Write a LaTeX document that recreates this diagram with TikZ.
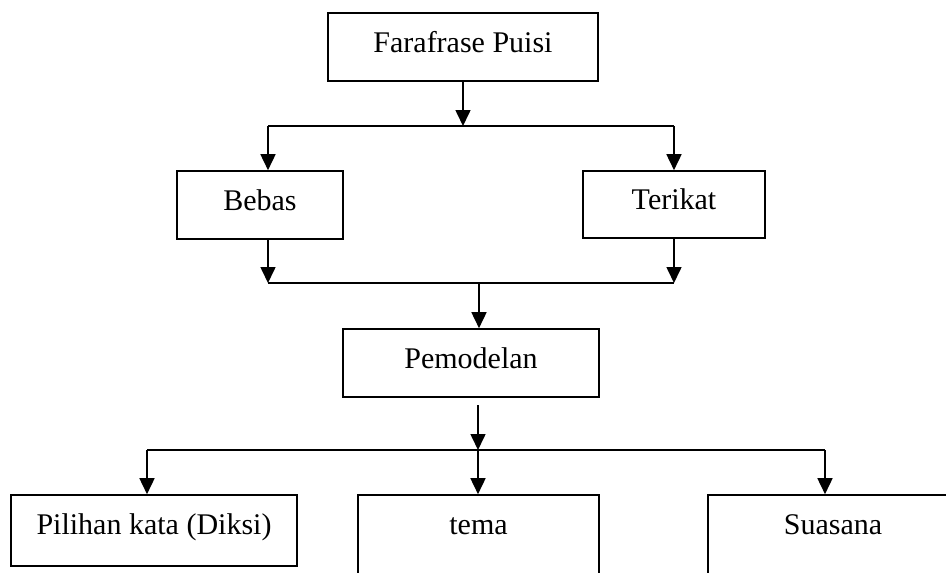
\documentclass[tikz,border=0pt]{standalone}
\usepackage{fontspec}
\setmainfont{Liberation Serif}
\usetikzlibrary{arrows.meta,calc}
\begin{document}
\begin{tikzpicture}[x=1pt,y=-1pt,
  box/.style={draw, line width=1.6pt, font=\fontsize{30}{36}\selectfont, inner sep=0pt, text height=21pt, text depth=11pt},
  link/.style={line width=1.6pt},
  arr/.style={line width=1.6pt, -{Triangle[width=15pt,length=16pt]}}]
\useasboundingbox (0,0) rectangle (946,573);
\clip (0,0) rectangle (946,573);
% boxes
\node[box, minimum width=270pt, minimum height=68pt] (top) at (463,47) {Farafrase Puisi};
\node[box, minimum width=166pt, minimum height=68pt] (bebas) at (260,205) {Bebas};
\node[box, minimum width=182pt, minimum height=67pt] (terikat) at (674,204.5) {Terikat};
\node[box, minimum width=256pt, minimum height=68pt] (pemodelan) at (471,363) {Pemodelan};
\node[box, minimum width=286pt, minimum height=71pt, text depth=14pt] (diksi) at (154,530.5) {Pilihan kata (Diksi)};
\node[box, minimum width=241pt, minimum height=110pt, text depth=53pt] (tema) at (478.5,550) {tema};
\node[box, minimum width=250pt, minimum height=110pt, text depth=53pt] (suasana) at (833,550) {Suasana};
% junction coordinates
\coordinate (j1) at (463,126);
\coordinate (j1l) at (268,126);
\coordinate (j1r) at (674,126);
\coordinate (j2l) at (268,283);
\coordinate (j2r) at (674,283);
\coordinate (j2m) at (479,283);
\coordinate (p3) at (478,405);
\coordinate (j3) at (478,450);
\coordinate (j3l) at (147,450);
\coordinate (j3r) at (825,450);
% connectors
\draw[arr] (top.south) -- (j1);
\draw[link] (j1l) -- (j1r);
\draw[arr] (j1l) -- (j1l |- bebas.north);
\draw[arr] (j1r) -- (j1r |- terikat.north);
\draw[arr] (j1l |- bebas.south) -- (j2l);
\draw[arr] (j1r |- terikat.south) -- (j2r);
\draw[link] (j2l) -- (j2r);
\draw[arr] (j2m) -- (j2m |- pemodelan.north);
\draw[arr] (p3) -- (j3);
\draw[link] (j3l) -- (j3r);
\draw[arr] (j3l) -- (j3l |- diksi.north);
\draw[arr] (j3) -- (j3 |- tema.north);
\draw[arr] (j3r) -- (j3r |- suasana.north);
\end{tikzpicture}
\end{document}
